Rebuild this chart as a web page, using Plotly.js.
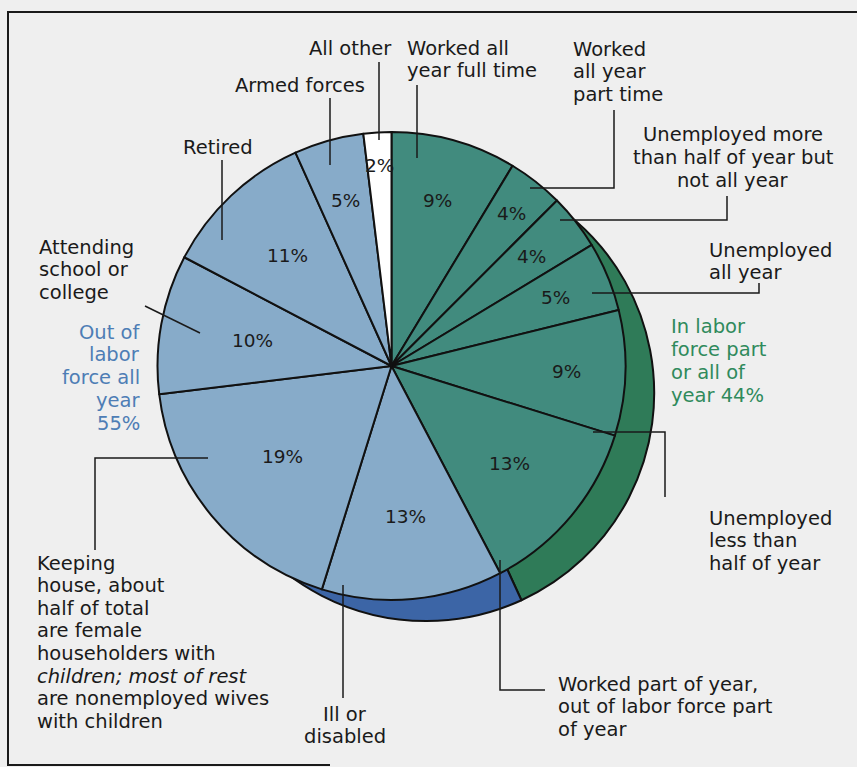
<!DOCTYPE html>
<html>
<head>
<meta charset="utf-8">
<script src="https://cdn.plot.ly/plotly-3.0.1.min.js"></script>
<style>
  html, body { margin: 0; padding: 0; background: #efefef; }
  #chart { width: 857px; height: 767px; }
</style>
</head>
<body>
<div id="chart"></div>
<script>
// ---------- DATA ----------
const sliceLabels = [
  "Worked all year full time",
  "Worked all year part time",
  "Unemployed more than half of year but not all year",
  "Unemployed all year",
  "Unemployed less than half of year",
  "Worked part of year, out of labor force part of year",
  "Ill or disabled",
  "Keeping house",
  "Attending school or college",
  "Retired",
  "Armed forces",
  "All other"
];
const sliceValues = [9, 4, 4, 5, 9, 13, 13, 19, 10, 11, 5, 2];
const sliceGroup = ["labor","labor","labor","labor","labor","labor","out","out","out","out","out","other"];
const groupNames = ["In labor force part or all of year", "Out of labor force all year"];

// ---------- STYLE / LAYOUT ----------
const W = 857, H = 767;
const cx = 391.5, cy = 366, R = 234;      // main pie centre / radius in px
const rimDx = 34.7, rimDy = 27.1, rimR = 228;   // shadow rim circle
const FONT = "DejaVu Sans";
const colGreen = "#418b7e", colBlue = "#87abc9", colWhite = "#ffffff";
const rimGreen = "#2f7b58", rimBlue = "#3c65a6";
const txtGreen = "#2f8a5c", txtBlue = "#4d7db5";
const sliceColors = sliceGroup.map(g => g === "labor" ? colGreen : (g === "out" ? colBlue : colWhite));
// radial position (px) of each percentage label
const labelRadius = [172, 194, 178, 178, 175, 153, 151, 142, 141, 152, 172, 201];

const px = x => x / W;
const py = y => 1 - y / H;

const total = sliceValues.reduce((a, b) => a + b, 0);
const laborSum = sliceValues.filter((v, i) => sliceGroup[i] === "labor").reduce((a, b) => a + b, 0);
const outSum = total - laborSum;

function domainFor(x0, y0, r) {
  return { x: [px(x0 - r), px(x0 + r)], y: [py(y0 + r), py(y0 - r)] };
}

const rimTrace = {
  type: "pie",
  values: [laborSum, outSum],
  labels: groupNames,
  sort: false,
  direction: "clockwise",
  rotation: 3,
  domain: domainFor(cx + rimDx, cy + rimDy, rimR),
  marker: { colors: [rimGreen, rimBlue], line: { color: "#111", width: 2 } },
  textinfo: "none",
  hoverinfo: "skip",
  showlegend: false
};

const mainTrace = {
  type: "pie",
  values: sliceValues,
  labels: sliceLabels,
  sort: false,
  direction: "clockwise",
  rotation: 0,
  domain: domainFor(cx, cy, R),
  marker: { colors: sliceColors, line: { color: "#111", width: 2 } },
  textinfo: "none",
  hoverinfo: "skip",
  showlegend: false
};

const annotations = [];
// percentage labels placed at each slice's mid angle
let cum = 0;
sliceValues.forEach((v, i) => {
  const mid = (cum + v / 2) / total * 2 * Math.PI;
  cum += v;
  const r = labelRadius[i];
  annotations.push({
    xref: "paper", yref: "paper",
    x: px(cx + r * Math.sin(mid)), y: py(cy - r * Math.cos(mid)),
    xanchor: "center", yanchor: "middle", showarrow: false,
    text: v + "%",
    font: { family: FONT, size: 18.5, color: "#1a1a1a" }
  });
});

function addText(lines, x, yFirst, anchor, color, opts) {
  const lh = (opts && opts.lh) || 22.8;
  lines.forEach((t, k) => {
    annotations.push({
      xref: "paper", yref: "paper",
      x: px(x), y: py(yFirst + k * lh),
      xanchor: anchor, yanchor: "middle", showarrow: false,
      text: t,
      font: { family: FONT, size: 19.5, color: color || "#1a1a1a" }
    });
  });
}

addText(["All other"], 350, 48, "center");
addText(["Worked all", "year full time"], 405, 48, "left");
addText(["Worked", "all year", "part time"], 571, 49, "left");
addText(["Unemployed more", "than half of year but", "not all year"], 733, 135, "center");
addText(["Unemployed", "all year"], 707, 250, "left");
addText(["In labor", "force part", "or all of", "year 44%"], 669, 327, "left", txtGreen);
addText(["Unemployed", "less than", "half of year"], 707, 518, "left");
addText(["Worked part of year,", "out of labor force part", "of year"], 556, 684, "left");
addText(["Ill or", "disabled"], 345, 714, "center");
addText(["Keeping", "house, about", "half of total", "are female", "householders with",
         "<i>children; most of rest</i>", "are nonemployed wives", "with children"], 35, 563, "left", null, { lh: 22.6 });
addText(["Out of", "labor", "force all", "year", "55%"], 142, 332, "right", txtBlue);
addText(["Attending", "school or", "college"], 37, 247, "left");
addText(["Retired"], 218, 147, "center");
addText(["Armed forces"], 300, 86, "center");

// leader lines (px)
const leaders = [
  [[379, 62], [379, 140]],
  [[417, 85], [417, 158]],
  [[614, 110], [614, 188], [530, 188]],
  [[727, 196], [727, 220], [560, 220]],
  [[759, 283], [759, 293], [592, 293]],
  [[593, 432], [665, 432], [665, 497]],
  [[500, 560], [500, 690], [545, 690]],
  [[343, 585], [343, 698]],
  [[208, 458], [95, 458], [95, 550]],
  [[145, 306], [200, 333]],
  [[222, 160], [222, 240]],
  [[330, 98], [330, 165]]
];
const shapes = [];
leaders.forEach(pts => {
  const d = pts.map((p, k) => (k ? "L" : "M") + px(p[0]) + "," + py(p[1])).join(" ");
  shapes.push({ type: "path", xref: "paper", yref: "paper", path: d,
                line: { color: "#1a1a1a", width: 1.5 } });
});
// frame
shapes.push({ type: "path", xref: "paper", yref: "paper",
  path: `M${px(857)},${py(12)} L${px(8)},${py(12)} L${px(8)},${py(765)} L${px(330)},${py(765)}`,
  line: { color: "#1a1a1a", width: 2 } });

const layout = {
  width: W, height: H,
  margin: { l: 0, r: 0, t: 0, b: 0 },
  paper_bgcolor: "#efefef",
  plot_bgcolor: "#efefef",
  showlegend: false,
  annotations: annotations,
  shapes: shapes
};

Plotly.newPlot("chart", [rimTrace, mainTrace], layout, { staticPlot: true, displayModeBar: false });
</script>
</body>
</html>
